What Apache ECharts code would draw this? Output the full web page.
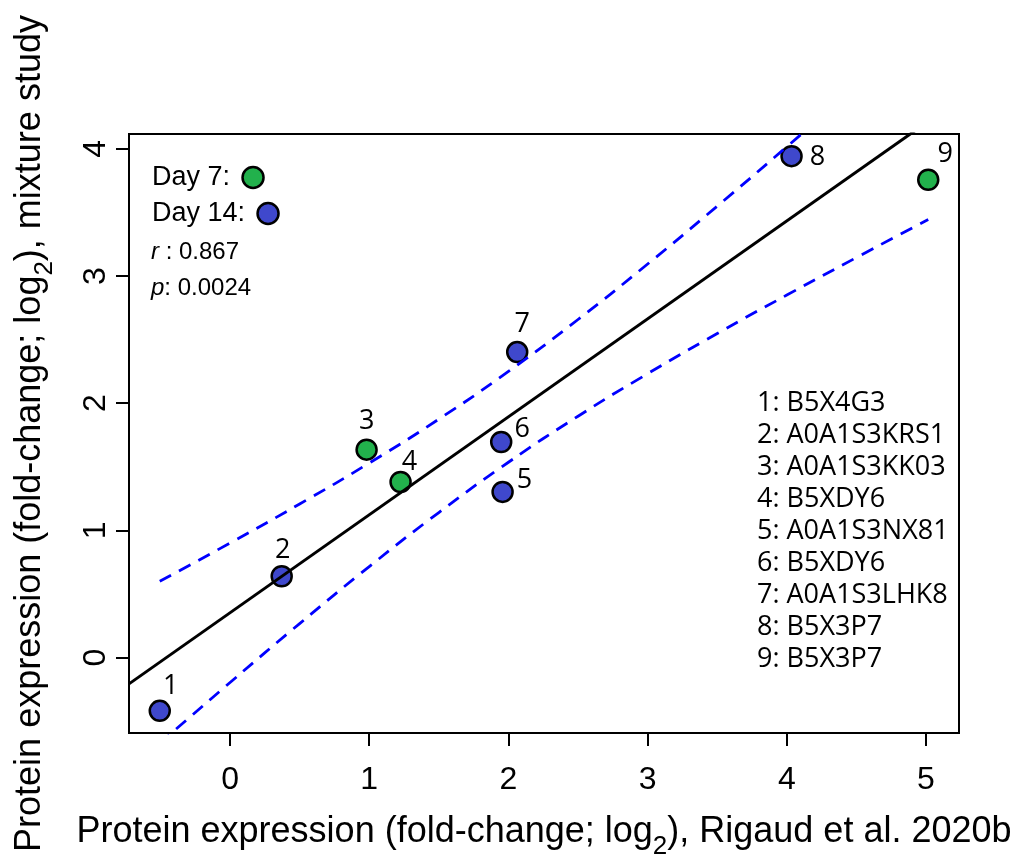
<!DOCTYPE html>
<html>
<head>
<meta charset="utf-8">
<script src="https://cdn.jsdelivr.net/npm/echarts@6/dist/echarts.min.js"></script>
<style>
  html, body { margin: 0; padding: 0; background: #ffffff; }
  #chart { width: 1023px; height: 858px; }
</style>
</head>
<body>
<div id="chart"></div>
<script>
// Proteins compared between the two studies (fold-change, log2)
const pointIds = [1, 2, 3, 4, 5, 6, 7, 8, 9];
const proteinNames = ['B5X4G3', 'A0A1S3KRS1', 'A0A1S3KK03', 'B5XDY6', 'A0A1S3NX81',
                      'B5XDY6', 'A0A1S3LHK8', 'B5X3P7', 'B5X3P7'];
const rigaudFc = [-0.505, 0.371, 0.981, 1.225, 1.958, 1.948, 2.063, 4.034, 5.016];
const mixtureFc = [-0.418, 0.640, 1.635, 1.381, 1.303, 1.695, 2.402, 3.942, 3.756];
const sampleDay = [14, 14, 7, 7, 14, 14, 14, 14, 7];

// Least-squares fit and its 95% confidence band
const fitIntercept = 0.353;
const fitSlope = 0.770;
const bandX = [-0.505, 0, 0.5, 1, 1.5, 2, 2.5, 3, 3.5, 4, 4.5, 5.016];
const bandUpper = [0.601, 0.901, 1.208, 1.530, 1.875, 2.250, 2.658, 3.094, 3.549, 4.016, 4.491, 4.987];
const bandLower = [-0.673, -0.195, 0.268, 0.716, 1.141, 1.536, 1.898, 2.232, 2.548, 2.850, 3.145, 3.444];
const corrR = '0.867';
const corrP = '0.0024';

// Axis extents and tick labels
const xRange = [-0.726, 5.237];
const yRange = [-0.592, 4.116];
const xTicks = [0, 1, 2, 3, 4, 5];
const yTicks = [0, 1, 2, 3, 4];

// ---- styling ----
const ARIAL = 'Liberation Sans, Arial, sans-serif';
const SEGOE = 'Open Sans, Noto Sans, sans-serif';
const dayColor = { 7: '#22B14C', 14: '#3F48CC' };
// where each point's number sits relative to the point centre (px)
const labelOffset = {
  1: [11, -25], 2: [1, -26], 3: [0, -28], 4: [9, -20], 5: [22, -12],
  6: [21, -13], 7: [5, -28], 8: [26, 1], 9: [17, -25]
};

function pointsForDay(day) {
  const out = [];
  pointIds.forEach((id, i) => {
    if (sampleDay[i] !== day) return;
    out.push({
      value: [rigaudFc[i], mixtureFc[i]],
      pid: id,
      label: { offset: labelOffset[id] }
    });
  });
  return out;
}

function scatterSeries(day) {
  return {
    name: 'Day ' + day,
    type: 'scatter',
    z: 2,
    symbol: 'circle',
    symbolSize: 20,
    itemStyle: { color: dayColor[day], borderColor: '#000', borderWidth: 2.5, opacity: 1 },
    label: {
      show: true,
      position: 'inside',
      formatter: p => String(p.data.pid),
      fontFamily: SEGOE,
      fontSize: 27,
      color: '#000'
    },
    emphasis: { disabled: true },
    data: pointsForDay(day)
  };
}

const fitLine = xRange.map(x => [x, fitIntercept + fitSlope * x]);
const upperLine = bandX.map((x, i) => [x, bandUpper[i]]);
const lowerLine = bandX.map((x, i) => [x, bandLower[i]]);

function bandSeries(name, data) {
  return {
    name: name,
    type: 'line',
    z: 3,
    silent: true,
    smooth: true,
    showSymbol: false,
    clip: true,
    lineStyle: { color: '#0000FF', width: 2.8, type: [13, 9] },
    data: data
  };
}

const titleRich = {
  a: { fontFamily: ARIAL, fontSize: 36, lineHeight: 56, color: '#000' },
  s: { fontFamily: ARIAL, fontSize: 26, lineHeight: 20, verticalAlign: 'bottom', color: '#000' }
};

function axisCommon(range, ticks) {
  return {
    type: 'value',
    min: range[0],
    max: range[1],
    axisLine: { show: false, onZero: false },
    axisTick: { show: true, length: 13, customValues: ticks, lineStyle: { color: '#000', width: 2 } },
    splitLine: { show: false },
    nameLocation: 'middle',
    nameTextStyle: { rich: titleRich }
  };
}

const chart = echarts.init(document.getElementById('chart'), null, { renderer: 'canvas' });

const idLines = pointIds.map((id, i) => ({
  type: 'text',
  left: 757,
  top: 390 + i * 32,
  style: { text: id + ': ' + proteinNames[i], fontFamily: SEGOE, fontSize: 27, fill: '#000' }
}));

function dayLegend(day, top) {
  return {
    data: ['Day ' + day],
    left: 152,
    top: top,
    padding: 0,
    align: 'right',
    icon: 'circle',
    itemWidth: 21,
    itemHeight: 21,
    selectedMode: false,
    formatter: name => name + ': ',
    itemStyle: { borderColor: '#000', borderWidth: 2.5 },
    textStyle: { fontFamily: ARIAL, fontSize: 27, lineHeight: 27, color: '#000' }
  };
}

chart.setOption({
  animation: false,
  backgroundColor: '#ffffff',
  grid: {
    left: 129, top: 134, width: 830, height: 599,
    outerBoundsMode: 'none',
    containLabel: false,
    show: true, borderColor: '#000', borderWidth: 2, backgroundColor: 'transparent'
  },
  xAxis: Object.assign(axisCommon(xRange, xTicks), {
    axisLabel: { customValues: xTicks, fontFamily: ARIAL, fontSize: 32, color: '#000', margin: 31 },
    name: '{a|Protein expression (fold-change; log}{s|2}{a|), Rigaud et al. 2020b}',
    nameGap: 71
  }),
  yAxis: Object.assign(axisCommon(yRange, yTicks), {
    axisLabel: { customValues: yTicks, fontFamily: ARIAL, fontSize: 32, color: '#000', margin: 17, rotate: 90 },
    name: '{a|Protein expression (fold-change; log}{s|2}{a|), mixture study}',
    nameGap: 71
  }),
  legend: [dayLegend(7, 164), dayLegend(14, 200)],
  graphic: [
    {
      type: 'text', left: 151, top: 240,
      style: {
        text: '{i|r} : ' + corrR,
        fontFamily: ARIAL, fontSize: 24, fill: '#000',
        rich: { i: { fontStyle: 'italic', fontFamily: ARIAL, fontSize: 24 } }
      }
    },
    {
      type: 'text', left: 151, top: 276,
      style: {
        text: '{i|p}: ' + corrP,
        fontFamily: ARIAL, fontSize: 24, fill: '#000',
        rich: { i: { fontStyle: 'italic', fontFamily: ARIAL, fontSize: 24 } }
      }
    }
  ].concat(idLines),
  series: [
    scatterSeries(7),
    scatterSeries(14),
    {
      name: 'fit',
      type: 'line',
      z: 3,
      silent: true,
      showSymbol: false,
      clip: true,
      lineStyle: { color: '#000', width: 3 },
      data: fitLine
    },
    bandSeries('upper', upperLine),
    bandSeries('lower', lowerLine)
  ]
});
</script>
</body>
</html>
